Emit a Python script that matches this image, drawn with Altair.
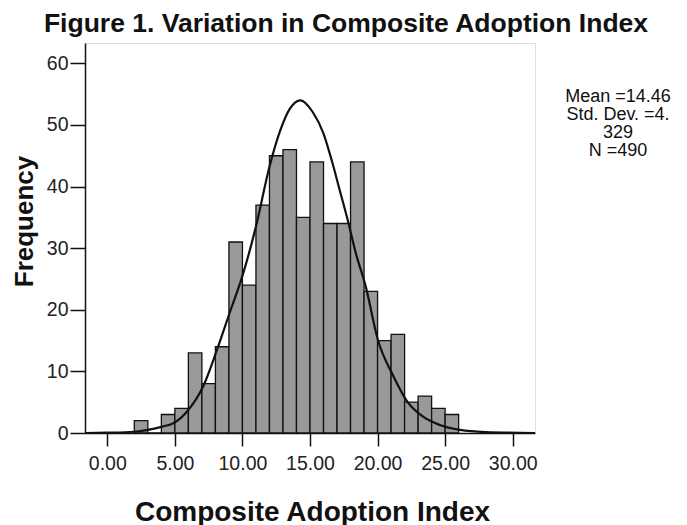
import altair as alt
import pandas as pd

# Histogram bins (lower edge, width 1) and frequencies
bin_start = [2, 3, 4, 5, 6, 7, 8, 9, 10, 11, 12, 13, 14, 15, 16, 17, 18, 19, 20, 21, 22, 23, 24, 25]
counts = [2, 0, 3, 4, 13, 8, 14, 31, 24, 37, 45, 46, 35, 44, 34, 34, 44, 23, 15, 16, 5, 6, 4, 3]

# Normal curve
curve_x = [-1.65, 0, 2, 3, 4, 4.9, 5.9, 7.1, 8.1, 9.1, 9.9, 11.0, 12.0, 12.8, 13.5, 14.3,
           15.2, 16.0, 16.6, 17.2, 17.8, 18.4, 19.1, 20.0, 21.2, 22.2, 23.4, 24.6, 26.1, 28.0, 31.65]
curve_y = [0, 0.05, 0.2, 0.5, 1.0, 1.6, 3.5, 7.6, 13.4, 19.8, 24.8, 33.5, 43.2, 49.1, 52.6, 54.0,
           52.1, 48.6, 44.3, 39.4, 34.5, 29.1, 24.0, 15.3, 9.1, 5.1, 2.6, 1.3, 0.5, 0.15, 0]

x_ticks = [0, 5, 10, 15, 20, 25, 30]
y_ticks = [0, 10, 20, 30, 40, 50, 60]
stats_text = "Mean =14.46\nStd. Dev. =4.\n329\nN =490"
title_text = "Figure 1. Variation in Composite Adoption Index"

bars_df = pd.DataFrame({"start": bin_start, "end": [b + 1 for b in bin_start], "count": counts})
curve_df = pd.DataFrame({"x": curve_x, "y": curve_y})

FONT = "Liberation Sans"
xscale = alt.Scale(domain=[-1.65, 31.65], nice=False, zero=False)
yscale = alt.Scale(domain=[0, 63.3], nice=False)

bars = alt.Chart(bars_df).mark_bar(
    fill="#999999", stroke="#111111", strokeWidth=1.3
).encode(
    x=alt.X("start:Q", scale=xscale,
            axis=alt.Axis(values=x_ticks, format=".2f", title="Composite Adoption Index",
                          grid=False, tickSize=13, labelPadding=8, labelFontSize=19.5,
                          labelFont=FONT, labelColor="#222222", tickColor="#111111",
                          domainColor="#111111", domainWidth=1.5, tickWidth=1.5,
                          titleFont=FONT, titleFontSize=28, titleFontWeight="bold",
                          titleColor="#111111", titleX=227, titleY=87,
                          titleBaseline="alphabetic")),
    x2="end:Q",
    y=alt.Y("count:Q", scale=yscale,
            axis=alt.Axis(values=y_ticks, title="Frequency", grid=False, tickSize=15,
                          labelPadding=2, labelFontSize=19.5, labelFont=FONT,
                          labelColor="#222222", tickColor="#111111", domainColor="#111111",
                          domainWidth=1.5, tickWidth=1.5, titleFont=FONT, titleFontSize=26,
                          titleFontWeight="bold", titleColor="#111111", titleX=-53,
                          titleY=178, titleBaseline="alphabetic", titleAngle=270)),
    y2=alt.datum(0),
)

curve = alt.Chart(curve_df).mark_line(
    color="#111111", strokeWidth=2.2, interpolate="monotone"
).encode(x=alt.X("x:Q", scale=xscale), y=alt.Y("y:Q", scale=yscale))

stats = alt.Chart(pd.DataFrame({"t": [stats_text]})).mark_text(
    font=FONT, fontSize=18, lineBreak="\n", lineHeight=18.2, align="center",
    baseline="alphabetic", color="#111111"
).encode(text="t:N", x=alt.value(533), y=alt.value(58.7))

title = alt.Chart(pd.DataFrame({"t": [title_text]})).mark_text(
    font=FONT, fontSize=26.5, fontWeight="bold", align="center",
    baseline="alphabetic", color="#111111"
).encode(text="t:N", x=alt.value(261), y=alt.value(-11.3))

chart = alt.layer(bars, curve, stats, title).properties(
    width=450, height=390,
    autosize=alt.AutoSizeParams(type="none"),
    padding={"left": 77, "top": 35, "right": 144, "bottom": 92},
).configure_view(stroke="#555555", strokeWidth=2).configure(background="white")

chart.save("out.html", embed_options={"renderer": "svg", "actions": False})
